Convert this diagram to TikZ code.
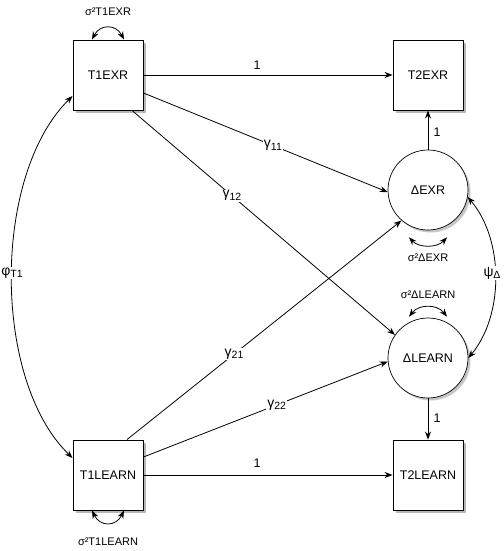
\documentclass[tikz,border=0pt]{standalone}
\usepackage{fontspec}
\setmainfont{Liberation Sans}
\usetikzlibrary{arrows.meta,shadows,calc}
\newcommand\sbx[1]{\raisebox{-2.5pt}{\fontsize{10.5}{11}\selectfont #1}}
\begin{document}
\begin{tikzpicture}[x=1pt,y=-1pt,
  font=\fontsize{12.5}{14}\selectfont,
  obsbox/.style={rectangle,draw,line width=0.9pt,fill=white,minimum size=70pt,inner sep=0pt,
    drop shadow={shadow xshift=3pt,shadow yshift=-3pt,fill=black!28,opacity=1}},
  latc/.style={circle,draw,line width=0.7pt,fill=white,minimum size=80pt,inner sep=0pt,
    drop shadow={shadow xshift=2.5pt,shadow yshift=-2.5pt,fill=black!22,opacity=1}},
  arr/.style={line width=0.8pt,-{Stealth[length=8pt,width=6pt]}},
  darr/.style={line width=0.8pt,{Stealth[length=8pt,width=6pt]}-{Stealth[length=8pt,width=6pt]}},
  lbl/.style={fill=white,inner sep=1pt},
  grk/.style={fill=white,inner sep=1pt,font=\fontsize{14}{15}\selectfont},
  small/.style={font=\fontsize{11}{13}\selectfont,inner sep=1pt}]
\useasboundingbox (0,0) rectangle (503,551);

% nodes
\node[obsbox] (t1e) at (108,75) {T1EXR};
\node[obsbox] (t2e) at (428,75) {T2EXR};
\node[obsbox] (t1l) at (108,475) {T1LEARN};
\node[obsbox] (t2l) at (428,475) {T2LEARN};
\node[latc] (dexr) at (428,190) {ΔEXR};
\node[latc] (dlearn) at (428,358) {ΔLEARN};

% paths
\draw[arr] (t1e.east) -- (t2e.west);
\node[inner sep=1pt] (l1) at (257,65) {1};
\draw[arr] ($(t1e.east)+(0,18)$) -- (dexr.183) node[grk,pos=0.53] (g11) {γ\sbx{11}};
\draw[arr] ($(t1e.south)+(24,0)$) -- (dlearn.145) node[grk,pos=0.38] (g12) {γ\sbx{12}};
\draw[arr] ($(t1l.north)+(19,0)$) -- (dexr.229) node[grk,pos=0.39] (g21) {γ\sbx{21}};
\draw[arr] ($(t1l.east)+(0,-18)$) -- (dlearn.185) node[grk,pos=0.545] (g22) {γ\sbx{22}};
\draw[arr] (t1l.east) -- (t2l.west);
\node[inner sep=1pt] (l2) at (257,463) {1};
\draw[arr] (dexr.north) -- (t2e.south);
\node[inner sep=1pt] (l3) at (437,132) {1};
\draw[arr] (dlearn.south) -- (t2l.north);
\node[inner sep=1pt] (l4) at (437,418) {1};

% variances
\draw[darr] ($(t1e.north)+(-16,0)$) .. controls (100,24) and (116,24) .. ($(t1e.north)+(16,0)$);
\node[small] (s1) at (108,12) {σ²T1EXR};
\draw[darr] ($(t1l.south)+(-16,0)$) .. controls (100,527) and (116,527) .. ($(t1l.south)+(16,0)$);
\node[small] (s2) at (108,542) {σ²T1LEARN};
\draw[darr] ($(dexr.south)+(-19,7)$) .. controls (419,248) and (437,248) .. ($(dexr.south)+(19,7)$);
\node[small] (s3) at (428,258) {σ²ΔEXR};
\draw[darr] ($(dlearn.north)+(-19,-1)$) .. controls (419,304) and (437,304) .. ($(dlearn.north)+(19,-1)$);
\node[small] (s4) at (428,295) {σ²ΔLEARN};

% covariances
\draw[darr] ($(t1l.west)+(0,-17)$) .. controls (-8,380) and (-8,175) .. ($(t1e.west)+(0,21)$);
\node[grk] (phi) at (12,273) {φ\sbx{T1}};
\draw[darr] (dexr.350) .. controls (504,240) and (504,315) .. (dlearn.0);
\node[grk] (psi) at (492,273) {ψ\sbx{Δ}};
\end{tikzpicture}
\end{document}
